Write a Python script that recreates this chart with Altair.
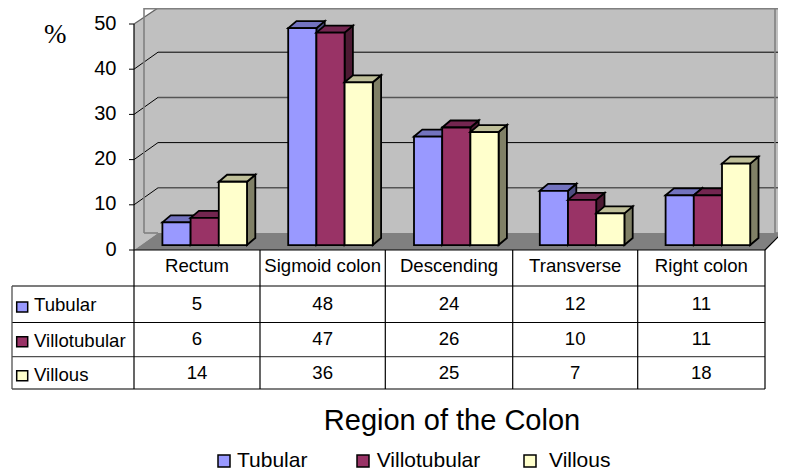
import altair as alt
import pandas as pd

categories = ["Rectum", "Sigmoid colon", "Descending", "Transverse", "Right colon"]
series = ["Tubular", "Villotubular", "Villous"]
tubular = [5, 48, 24, 12, 11]
villotubular = [6, 47, 26, 10, 11]
villous = [14, 36, 25, 7, 18]
series_values = [tubular, villotubular, villous]
y_ticks = [0, 10, 20, 30, 40, 50]
face_colors = ["#9999FF", "#993366", "#FFFFCC"]
top_colors = ["#7373BF", "#732650", "#BFBF99"]
side_colors = ["#4D4D80", "#4D1A33", "#808066"]

W, H = 770, 463
ORIGIN = 8              # page position of the svg corner
X0, CAT = 134.0, 126.2  # page x of category 0, px per category
Y0, UNIT = 250.0, 4.52  # page y of value 0, px per value unit


def xv(px):
    return (px - X0) / CAT


def yv(py):
    return (Y0 - py) / UNIT


x_scale = alt.Scale(domain=[xv(ORIGIN), xv(ORIGIN + W)], range=[0, W], nice=False, zero=False)
y_scale = alt.Scale(domain=[yv(ORIGIN + H), yv(ORIGIN)], range=[H, 0], nice=False, zero=False)
X = alt.X("x:Q", scale=x_scale, axis=None)
Y = alt.Y("y:Q", scale=y_scale, axis=None, stack=None)


def poly(points, fill, stroke=None, sw=1.0):
    """Area through (x, top, bottom) points, all in data units."""
    df = pd.DataFrame(points, columns=["x", "y", "y2"])
    kw = {"stroke": stroke, "strokeWidth": sw} if stroke else {}
    return alt.Chart(df).mark_area(
        fill=fill, opacity=1, interpolate="linear", orient="vertical", **kw
    ).encode(x=X, y=Y, y2="y2:Q")


def rules(segs, color, sw=1.0):
    df = pd.DataFrame(
        [dict(x=xv(a), y=yv(b), x2=xv(c), y2=yv(d)) for a, b, c, d in segs]
    )
    return alt.Chart(df).mark_rule(color=color, strokeWidth=sw).encode(
        x=X, y=Y, x2="x2:Q", y2="y2:Q"
    )


def rect(x1, y1, x2, y2, fill, stroke="black", sw=1.5):
    df = pd.DataFrame([dict(x=x1, y=y1, x2=x2, y2=y2)])
    kw = {"stroke": stroke, "strokeWidth": sw} if stroke else {}
    return alt.Chart(df).mark_rect(fill=fill, opacity=1, **kw).encode(
        x=X, y=Y, x2="x2:Q", y2="y2:Q"
    )


def text(rows, size, align="center", font="Liberation Sans"):
    df = pd.DataFrame([dict(x=xv(a), y=yv(b), t=t) for a, b, t in rows])
    return alt.Chart(df).mark_text(
        align=align, baseline="alphabetic", font=font, fontSize=size, color="black"
    ).encode(x=X, y=Y, text="t:N")


layers = []

# walls and floor
layers.append(rect(xv(158), yv(233), xv(786), yv(7), "#C0C0C0", stroke=None))
layers.append(poly([(xv(134), yv(24), yv(250)), (xv(158), yv(7), yv(233))], "#C0C0C0"))
layers.append(
    poly(
        [
            (xv(134), yv(250), yv(250)),
            (xv(158), yv(233), yv(250)),
            (xv(765), yv(233), yv(250)),
            (xv(782), yv(233), yv(233)),
        ],
        "#808080",
    )
)

# grid lines on back and side walls
grid_y = [187.8, 142.6, 97.4, 52.2]
tick_y = [Y0 - UNIT * v for v in [10, 20, 30, 40]]
layers.append(rules([(158, grid_y[1], 786, grid_y[1]), (158, grid_y[3], 786, grid_y[3])], "black", 1))
layers.append(rules([(158, grid_y[0], 786, grid_y[0]), (158, grid_y[2], 786, grid_y[2])], "#555555", 1.5))
layers.append(rules([(134, t, 158, t - 17) for t in tick_y], "black", 1))
layers.append(rules([(134, 24, 158, 8)], "#606060", 1.2))
layers.append(
    rules(
        [(144, 8.8, 786, 8.8), (144, 8, 144, 233), (775, 8, 775, 233), (144, 233, 158, 233), (775, 233, 786, 233)],
        "#808080",
        1.6,
    )
)
layers.append(rules([(134, 24, 134, 250), (134, 250, 765, 250), (765, 250, 782, 233)], "black", 1.2))

# value ticks and labels on the shared y scale
tick_df = pd.DataFrame({"y": y_ticks, "t": [str(v) for v in y_ticks]})
tick_df["x"] = xv(129)
tick_df["x2"] = xv(134)
layers.append(
    alt.Chart(tick_df).mark_rule(color="black", strokeWidth=1).encode(x=X, x2="x2:Q", y=Y)
)
label_df = tick_df.assign(x=xv(116.5), y=tick_df["y"] + 0.1)
layers.append(
    alt.Chart(label_df).mark_text(
        align="right", baseline="middle", font="Liberation Sans", fontSize=20, color="black"
    ).encode(x=X, y=Y, text="t:N")
)

# bars: painted series by series so later faces cover earlier sides
BASE = 1.1
BAR_W = 28.2 / CAT
STEP = 125.8 / CAT
START = 28.4 / CAT
DX = 8.3 / CAT
DV = 7.0 / UNIT
for s, vals in enumerate(series_values):
    for c, v in enumerate(vals):
        x0 = START + c * STEP + s * BAR_W
        x1 = x0 + BAR_W
        top = BASE + v
        layers.append(
            poly(
                [(x1, top, BASE), (x1 + DX, top + DV, BASE + DV)],
                side_colors[s],
                "black",
                1.8,
            )
        )
        layers.append(
            poly(
                [
                    (x0, top, top),
                    (x0 + DX, top + DV, top),
                    (x1, top + DV, top),
                    (x1 + DX, top + DV, top + DV),
                ],
                top_colors[s],
                "black",
                1.8,
            )
        )
        layers.append(rect(x0, BASE, x1, top, face_colors[s], sw=1.8))

# data table
col_lines = [134, 260, 385.3, 512.7, 637.7, 765]
layers.append(rules([(134, 286, 765, 286), (12, 322.5, 765, 322.5), (134, 389, 765, 389)], "black", 1.2))
layers.append(rules([(12, 286, 134, 286), (12, 356.7, 765, 356.7), (12, 389, 134, 389), (12, 286, 12, 389)], "#505050", 1.3))
layers.append(rules([(c, 250, c, 389) for c in col_lines], "black", 1.2))

centers = [(a + b) / 2 for a, b in zip(col_lines[:-1], col_lines[1:])]
layers.append(text([(m, 272.2, n) for m, n in zip(centers, categories)], 18.6))
row_base = [310.2, 345, 379]
for vals, b in zip(series_values, row_base):
    layers.append(text([(m, b, str(v)) for m, v in zip(centers, vals)], 18.6))

label_base = [311, 346.7, 381]
swatch_top = [302, 336.7, 370.7]
for s, name in enumerate(series):
    layers.append(rect(xv(16.7), yv(swatch_top[s] + 10), xv(27.7), yv(swatch_top[s]), face_colors[s]))
    layers.append(text([(34, label_base[s], name)], 18.6, align="left"))

# axis unit, title
layers.append(text([(44, 43, "%")], 27, align="left", font="Liberation Serif"))
layers.append(text([(452, 430, "Region of the Colon")], 29))

# bottom legend
legend_sw = [218, 357, 524]
legend_tx = [237, 376.7, 549]
for s, name in enumerate(series):
    layers.append(rect(xv(legend_sw[s]), yv(467), xv(legend_sw[s] + 12), yv(455), face_colors[s]))
    layers.append(text([(legend_tx[s], 466.7, name)], 21, align="left"))

chart = (
    alt.layer(*layers)
    .resolve_scale(x="shared", y="shared")
    .properties(
        width=W,
        height=H,
        padding=0,
        autosize=alt.AutoSizeParams(type="none"),
        background="white",
    )
    .configure_view(stroke=None)
)
chart.save("out.html", embed_options={"renderer": "svg", "actions": False})
